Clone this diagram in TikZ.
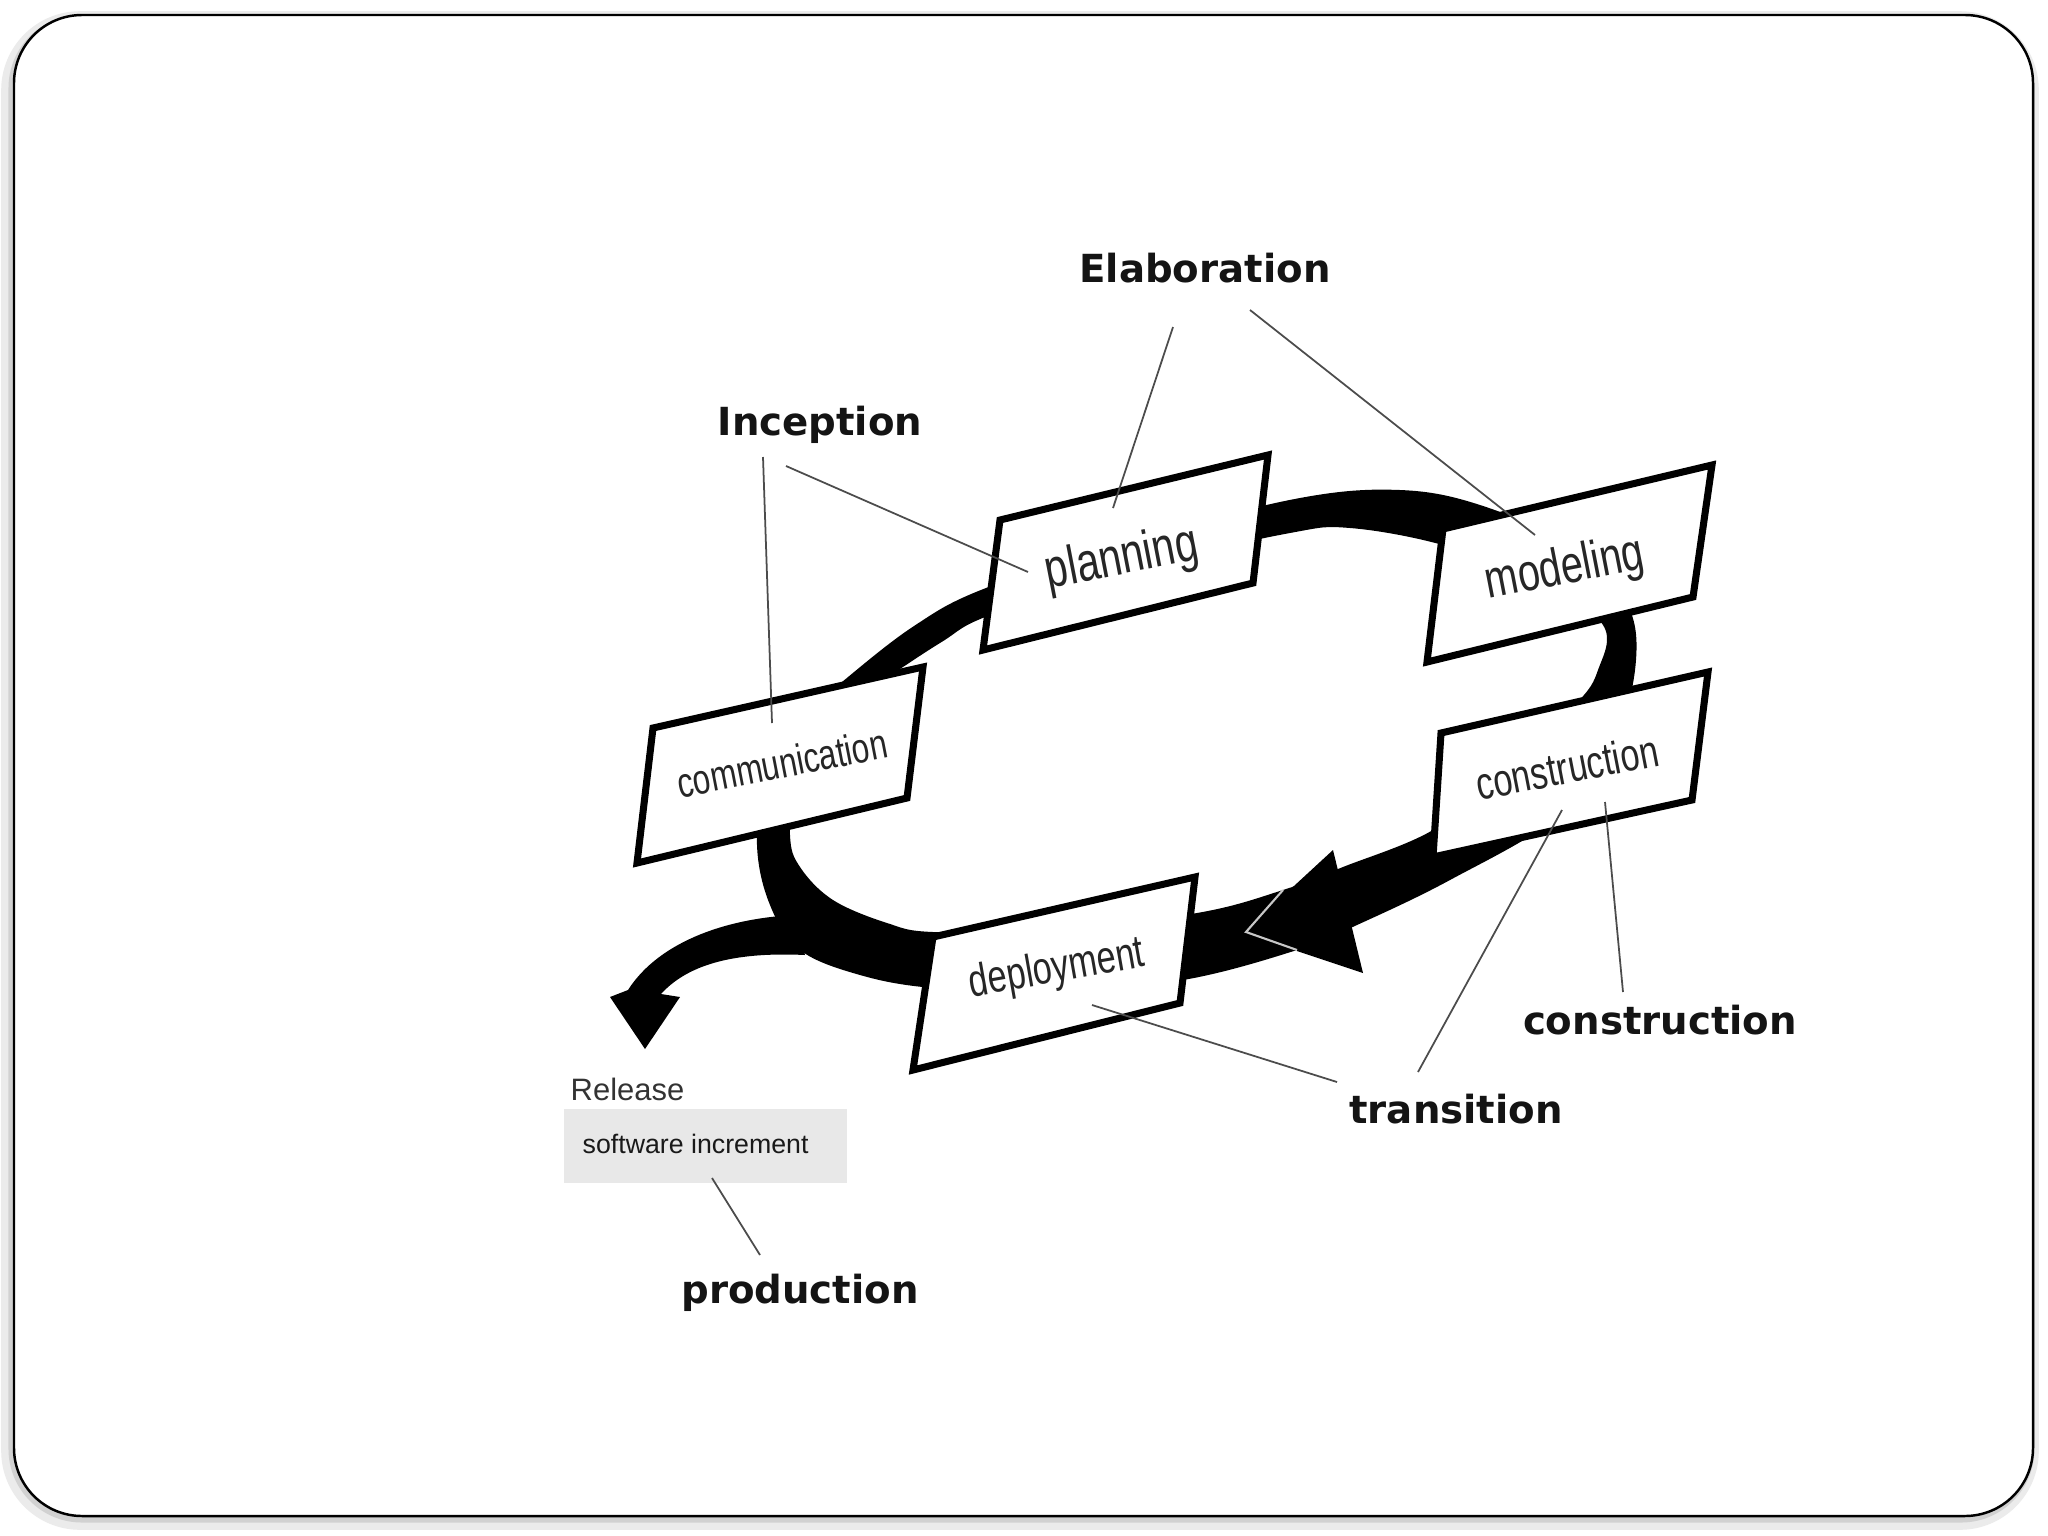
\documentclass[tikz,border=0pt]{standalone}
\usepackage{fontspec}
\newfontfamily\labfont{DejaVu Sans}
\newfontfamily\boxfont{Liberation Sans}[FakeStretch=0.75]
\newfontfamily\relfont{Liberation Sans}
\begin{document}
\begin{tikzpicture}[x=0.01cm,y=-0.01cm,
  lab/.style={font={\labfont\bfseries\fontsize{11pt}{13pt}\selectfont}, inner sep=0pt, anchor=base, text=black!92},
  boxtxt/.style={inner sep=0pt, text=black!85},
  stage/.style={draw=black, fill=white, line width=2pt, line join=miter},
  callout/.style={draw=black!70, line width=0.5pt},
  tick/.style={draw=white!78!black, line width=0.6pt},
  band/.style={fill=black}]
\useasboundingbox (0,0) rectangle (2048,1536);
\fill[white] (0,0) rectangle (2048,1536);
% frame with soft shadow
\draw[black!8, line width=5pt, rounded corners=0.7cm] (10,20) rectangle (2030,1521);
\draw[black!18, line width=2pt, rounded corners=0.7cm] (12,18) rectangle (2031,1519);
\draw[fill=white, line width=0.7pt, rounded corners=0.68cm] (14,15) rectangle (2033,1516);

% the loop band
\fill[band, even odd rule]
  plot[smooth cycle, tension=0.6] coordinates {(757,845) (765,770) (800,720) (842,682) (914,626) (986,588) (1140,538) (1300,498) (1400,490) (1480,505) (1570,545) (1625,600) (1636,660) (1615,740) (1560,815) (1450,880) (1357,925) (1297,950) (1183,980) (1050,992) (933,988) (860,975) (800,950) (770,905)}
  plot[smooth cycle, tension=0.6] coordinates {(790,835) (795,770) (830,712) (868,690) (940,643) (993,614) (1150,565) (1290,533) (1350,528) (1443,545) (1540,580) (1603,625) (1598,670) (1575,705) (1500,775) (1433,830) (1343,867) (1283,890) (1197,913) (1050,930) (933,932) (887,923) (833,900) (800,867)};
% arrowhead on the lower right
\fill[band] (1333,850) -- (1363,973) -- (1243,933) -- cycle;
% release arrow
\fill[band] (795,915) .. controls (730,918) and (660,940) .. (628,990) -- (610,997) -- (645,1049) -- (680,997) -- (661,994) .. controls (690,962) and (740,952) .. (805,955) -- cycle;

% stage boxes
\draw[stage] (653,728) -- (923,667) -- (907,798) -- (637,863) -- cycle;
\draw[stage] (1000,520) -- (1268,455) -- (1253,583) -- (983,650) -- cycle;
\draw[stage] (1443,529) -- (1712,465) -- (1693,597) -- (1427,662) -- cycle;
\draw[stage] (1441,733) -- (1708,672) -- (1692,800) -- (1433,857) -- cycle;
\draw[stage] (933,937) -- (1195,877) -- (1180,1003) -- (913,1070) -- cycle;

% box texts
\node[boxtxt, rotate=11, font={\boxfont\fontsize{12pt}{14pt}\selectfont}] (tcomm) at (782,763) {communication};
\node[boxtxt, rotate=11, font={\boxfont\fontsize{15.5pt}{18pt}\selectfont}] (tplan) at (1122,560) {planning};
\node[boxtxt, rotate=11, font={\boxfont\fontsize{15pt}{18pt}\selectfont}] (tmodel) at (1565,570) {modeling};
\node[boxtxt, rotate=11, font={\boxfont\fontsize{13pt}{15pt}\selectfont}] (tconstr) at (1567,767) {construction};
\node[boxtxt, rotate=10, font={\boxfont\fontsize{13pt}{15pt}\selectfont}] (tdeploy) at (1057,970) {deployment};

% release
\fill[black!9] (564,1109) rectangle (847,1183);
\node[anchor=base west, inner sep=0pt, text=black!80, font={\relfont\fontsize{8.8pt}{10pt}\selectfont}] (rel) at (570,1100) {Release};
\node[anchor=base west, inner sep=0pt, text=black!90, font={\relfont\fontsize{7.6pt}{9pt}\selectfont}] (soft) at (582,1153) {software increment};

% phase labels
\node[lab] (elab) at (1205,282) {Elaboration};
\node[lab] (incep) at (820,435) {Inception};
\node[lab] (constr) at (1660,1034) {construction};
\node[lab] (trans) at (1456,1123) {transition};
\node[lab] (prod) at (800,1303) {production};

% callout end points
\coordinate (e1) at (1173,327); \coordinate (e1b) at (1113,508);
\coordinate (e2) at (1250,310); \coordinate (e2b) at (1535,535);
\coordinate (i1) at (786,466);  \coordinate (i1b) at (1028,572);
\coordinate (i2) at (763,457);  \coordinate (i2b) at (772,723);
\coordinate (c1) at (1623,992); \coordinate (c1b) at (1605,802);
\coordinate (t1) at (1418,1072); \coordinate (t1b) at (1562,810);
\coordinate (t2) at (1337,1082); \coordinate (t2b) at (1092,1005);
\coordinate (p1) at (760,1255); \coordinate (p1b) at (712,1178);
\coordinate (k1) at (1283,890); \coordinate (k2) at (1246,932); \coordinate (k3) at (1297,950);

\draw[callout] (e1) -- (e1b);
\draw[callout] (e2) -- (e2b);
\draw[callout] (i1) -- (i1b);
\draw[callout] (i2) -- (i2b);
\draw[callout] (c1) -- (c1b);
\draw[callout] (t1) -- (t1b);
\draw[callout] (t2) -- (t2b);
\draw[callout] (p1) -- (p1b);
\draw[tick] (k1) -- (k2) -- (k3);
\end{tikzpicture}
\end{document}
